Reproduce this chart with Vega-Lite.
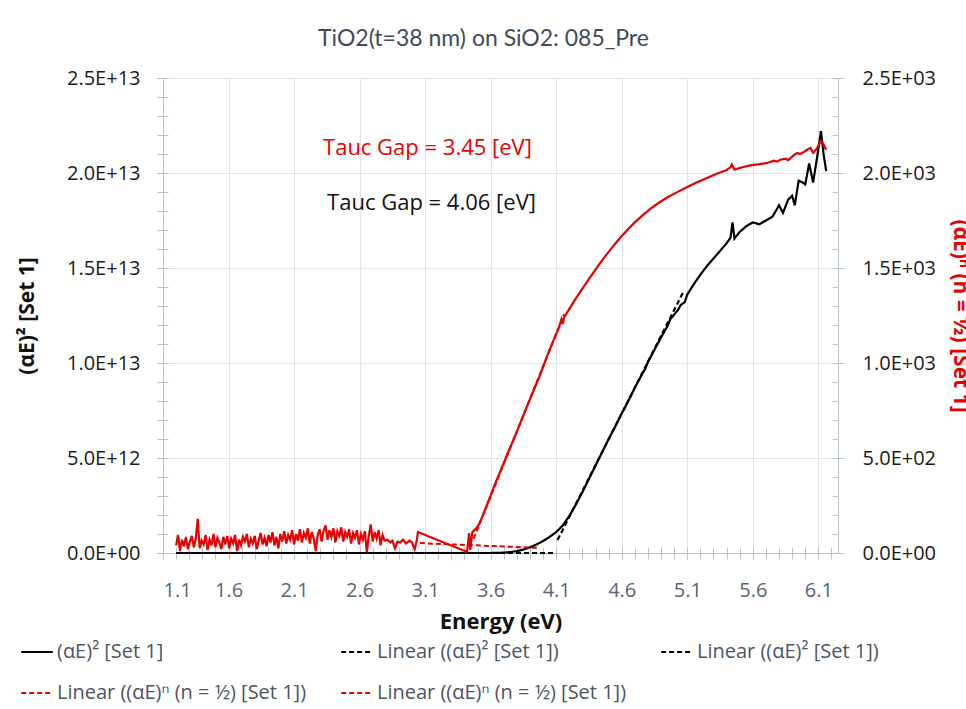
{
  "$schema": "https://vega.github.io/schema/vega-lite/v6.json",
  "autosize": {"type": "none"},
  "padding": {"left": 163, "top": 78, "right": 128, "bottom": 156},
  "width": 675,
  "height": 475,
  "background": "white",
  "config": {"font": "Open Sans", "view": {"stroke": null}},
  "title": {
    "text": "TiO2(t=38 nm) on SiO2: 085_Pre",
    "font": "Lato",
    "fontSize": 23,
    "fontWeight": "normal",
    "color": "#3f4b5c",
    "anchor": "middle",
    "frame": "group",
    "baseline": "alphabetic",
    "offset": 32,
    "dx": -17,
    "dy": 33
  },
  "datasets": {
    "black": [
      {"E": 1.2, "v": 0, "s": "s1"},
      {"E": 3.6, "v": 0, "s": "s1"},
      {"E": 3.7, "v": 0.02e12, "s": "s1"},
      {"E": 3.75, "v": 0.05e12, "s": "s1"},
      {"E": 3.8, "v": 0.1e12, "s": "s1"},
      {"E": 3.85, "v": 0.18e12, "s": "s1"},
      {"E": 3.9, "v": 0.3e12, "s": "s1"},
      {"E": 3.95, "v": 0.45e12, "s": "s1"},
      {"E": 4.0, "v": 0.63e12, "s": "s1"},
      {"E": 4.05, "v": 0.85e12, "s": "s1"},
      {"E": 4.1, "v": 1.1e12, "s": "s1"},
      {"E": 4.15, "v": 1.45e12, "s": "s1"},
      {"E": 4.2, "v": 1.95e12, "s": "s1"},
      {"E": 4.25, "v": 2.55e12, "s": "s1"},
      {"E": 4.3, "v": 3.2e12, "s": "s1"},
      {"E": 4.35, "v": 3.9e12, "s": "s1"},
      {"E": 4.4, "v": 4.6e12, "s": "s1"},
      {"E": 4.45, "v": 5.3e12, "s": "s1"},
      {"E": 4.5, "v": 6.0e12, "s": "s1"},
      {"E": 4.55, "v": 6.65e12, "s": "s1"},
      {"E": 4.6, "v": 7.35e12, "s": "s1"},
      {"E": 4.62, "v": 7.6e12, "s": "s1"},
      {"E": 4.65, "v": 8.0e12, "s": "s1"},
      {"E": 4.7, "v": 8.7e12, "s": "s1"},
      {"E": 4.75, "v": 9.35e12, "s": "s1"},
      {"E": 4.78, "v": 9.7e12, "s": "s1"},
      {"E": 4.8, "v": 10.05e12, "s": "s1"},
      {"E": 4.85, "v": 10.7e12, "s": "s1"},
      {"E": 4.9, "v": 11.35e12, "s": "s1"},
      {"E": 4.95, "v": 11.95e12, "s": "s1"},
      {"E": 4.97, "v": 12.3e12, "s": "s1"},
      {"E": 5.0, "v": 12.55e12, "s": "s1"},
      {"E": 5.03, "v": 12.8e12, "s": "s1"},
      {"E": 5.05, "v": 13.05e12, "s": "s1"},
      {"E": 5.08, "v": 13.2e12, "s": "s1"},
      {"E": 5.1, "v": 13.6e12, "s": "s1"},
      {"E": 5.15, "v": 14.15e12, "s": "s1"},
      {"E": 5.2, "v": 14.65e12, "s": "s1"},
      {"E": 5.25, "v": 15.1e12, "s": "s1"},
      {"E": 5.3, "v": 15.5e12, "s": "s1"},
      {"E": 5.35, "v": 15.9e12, "s": "s1"},
      {"E": 5.4, "v": 16.3e12, "s": "s1"},
      {"E": 5.43, "v": 16.6e12, "s": "s1"},
      {"E": 5.445, "v": 17.4e12, "s": "s1"},
      {"E": 5.46, "v": 16.55e12, "s": "s1"},
      {"E": 5.5, "v": 16.9e12, "s": "s1"},
      {"E": 5.55, "v": 17.2e12, "s": "s1"},
      {"E": 5.6, "v": 17.4e12, "s": "s1"},
      {"E": 5.65, "v": 17.3e12, "s": "s1"},
      {"E": 5.7, "v": 17.5e12, "s": "s1"},
      {"E": 5.75, "v": 17.7e12, "s": "s1"},
      {"E": 5.8, "v": 18.3e12, "s": "s1"},
      {"E": 5.83, "v": 17.9e12, "s": "s1"},
      {"E": 5.87, "v": 18.6e12, "s": "s1"},
      {"E": 5.9, "v": 18.8e12, "s": "s1"},
      {"E": 5.92, "v": 18.3e12, "s": "s1"},
      {"E": 5.95, "v": 19.6e12, "s": "s1"},
      {"E": 5.98, "v": 19.5e12, "s": "s1"},
      {"E": 6.0, "v": 19.4e12, "s": "s1"},
      {"E": 6.03, "v": 20.5e12, "s": "s1"},
      {"E": 6.06, "v": 19.5e12, "s": "s1"},
      {"E": 6.09, "v": 20.8e12, "s": "s1"},
      {"E": 6.12, "v": 22.2e12, "s": "s1"},
      {"E": 6.14, "v": 21.0e12, "s": "s1"},
      {"E": 6.16, "v": 20.1e12, "s": "s1"},
      {"E": 4.11, "v": 0.68e12, "s": "f1"},
      {"E": 5.07, "v": 13.74e12, "s": "f1"},
      {"E": 3.0, "v": 0, "s": "f2"},
      {"E": 4.1, "v": 0, "s": "f2"}
    ],
    "redfit": [
      {"E": 3.06, "v": 52, "s": "f3"},
      {"E": 3.96, "v": 27, "s": "f3"},
      {"E": 3.47, "v": 75, "s": "f4"},
      {"E": 4.16, "v": 1257, "s": "f4"}
    ],
    "red": [
      {"E": 1.2, "v": 40}, {"E": 1.215, "v": 95}, {"E": 1.23, "v": 10}, {"E": 1.245, "v": 70},
      {"E": 1.26, "v": 35}, {"E": 1.275, "v": 85}, {"E": 1.29, "v": 20}, {"E": 1.305, "v": 60},
      {"E": 1.32, "v": 90}, {"E": 1.335, "v": 30}, {"E": 1.35, "v": 75}, {"E": 1.365, "v": 180},
      {"E": 1.38, "v": 25}, {"E": 1.395, "v": 65}, {"E": 1.41, "v": 45}, {"E": 1.425, "v": 95},
      {"E": 1.44, "v": 15}, {"E": 1.455, "v": 70}, {"E": 1.47, "v": 40}, {"E": 1.485, "v": 100},
      {"E": 1.5, "v": 30}, {"E": 1.515, "v": 80}, {"E": 1.53, "v": 55}, {"E": 1.545, "v": 20},
      {"E": 1.56, "v": 85}, {"E": 1.575, "v": 45}, {"E": 1.59, "v": 90}, {"E": 1.605, "v": 25},
      {"E": 1.62, "v": 75}, {"E": 1.635, "v": 50}, {"E": 1.65, "v": 95}, {"E": 1.665, "v": 10},
      {"E": 1.68, "v": 70}, {"E": 1.695, "v": 40}, {"E": 1.71, "v": 85}, {"E": 1.725, "v": 60},
      {"E": 1.74, "v": 100}, {"E": 1.755, "v": 30}, {"E": 1.77, "v": 75}, {"E": 1.785, "v": 50},
      {"E": 1.8, "v": 90}, {"E": 1.815, "v": 20}, {"E": 1.83, "v": 65}, {"E": 1.845, "v": 105},
      {"E": 1.86, "v": 45}, {"E": 1.875, "v": 80}, {"E": 1.89, "v": 35}, {"E": 1.905, "v": 95},
      {"E": 1.92, "v": 55}, {"E": 1.935, "v": 110}, {"E": 1.95, "v": 40}, {"E": 1.965, "v": 85},
      {"E": 1.98, "v": 25}, {"E": 1.995, "v": 100}, {"E": 2.01, "v": 60}, {"E": 2.025, "v": 115},
      {"E": 2.04, "v": 50}, {"E": 2.055, "v": 95}, {"E": 2.07, "v": 70}, {"E": 2.085, "v": 120},
      {"E": 2.1, "v": 45}, {"E": 2.115, "v": 100}, {"E": 2.13, "v": 65}, {"E": 2.145, "v": 125},
      {"E": 2.16, "v": 55}, {"E": 2.175, "v": 105}, {"E": 2.19, "v": 80}, {"E": 2.205, "v": 130},
      {"E": 2.22, "v": 50}, {"E": 2.235, "v": 110}, {"E": 2.25, "v": 75}, {"E": 2.265, "v": 10},
      {"E": 2.28, "v": 95}, {"E": 2.295, "v": 125}, {"E": 2.31, "v": 60}, {"E": 2.325, "v": 115},
      {"E": 2.34, "v": 145}, {"E": 2.355, "v": 70}, {"E": 2.37, "v": 120}, {"E": 2.385, "v": 85},
      {"E": 2.4, "v": 130}, {"E": 2.415, "v": 55}, {"E": 2.43, "v": 115}, {"E": 2.445, "v": 90},
      {"E": 2.46, "v": 135}, {"E": 2.475, "v": 60}, {"E": 2.49, "v": 110}, {"E": 2.505, "v": 85},
      {"E": 2.52, "v": 125}, {"E": 2.535, "v": 50}, {"E": 2.55, "v": 105}, {"E": 2.565, "v": 80},
      {"E": 2.58, "v": 120}, {"E": 2.595, "v": 45}, {"E": 2.61, "v": 100}, {"E": 2.625, "v": 70},
      {"E": 2.64, "v": 115}, {"E": 2.655, "v": 5}, {"E": 2.67, "v": 90}, {"E": 2.685, "v": 150},
      {"E": 2.7, "v": 60}, {"E": 2.715, "v": 110}, {"E": 2.73, "v": 75}, {"E": 2.745, "v": 120},
      {"E": 2.76, "v": 40}, {"E": 2.775, "v": 95}, {"E": 2.79, "v": 65},
      {"E": 2.81, "v": 70}, {"E": 2.835, "v": 55}, {"E": 2.85, "v": 65}, {"E": 2.87, "v": 25},
      {"E": 2.89, "v": 60}, {"E": 2.91, "v": 55}, {"E": 2.93, "v": 70}, {"E": 2.955, "v": 50},
      {"E": 2.98, "v": 65}, {"E": 3.0, "v": 55}, {"E": 3.02, "v": 20}, {"E": 3.035, "v": 60},
      {"E": 3.045, "v": 110},
      {"E": 3.42, "v": 5}, {"E": 3.435, "v": 105}, {"E": 3.445, "v": 16}, {"E": 3.46, "v": 110},
      {"E": 3.49, "v": 130}, {"E": 3.51, "v": 150}, {"E": 3.535, "v": 190}, {"E": 3.57, "v": 250},
      {"E": 3.634, "v": 365}, {"E": 3.68, "v": 440}, {"E": 3.73, "v": 525}, {"E": 3.78, "v": 605},
      {"E": 3.825, "v": 682}, {"E": 3.87, "v": 760}, {"E": 3.924, "v": 850}, {"E": 3.97, "v": 925},
      {"E": 4.03, "v": 1035}, {"E": 4.077, "v": 1115}, {"E": 4.12, "v": 1185}, {"E": 4.14, "v": 1230},
      {"E": 4.15, "v": 1205}, {"E": 4.16, "v": 1240}, {"E": 4.2, "v": 1285}, {"E": 4.25, "v": 1340},
      {"E": 4.3, "v": 1392}, {"E": 4.35, "v": 1443}, {"E": 4.4, "v": 1492}, {"E": 4.45, "v": 1540},
      {"E": 4.5, "v": 1585}, {"E": 4.55, "v": 1628}, {"E": 4.6, "v": 1668}, {"E": 4.65, "v": 1705},
      {"E": 4.7, "v": 1740}, {"E": 4.76, "v": 1778}, {"E": 4.82, "v": 1812}, {"E": 4.88, "v": 1842},
      {"E": 4.95, "v": 1872}, {"E": 5.02, "v": 1898}, {"E": 5.1, "v": 1926}, {"E": 5.17, "v": 1950},
      {"E": 5.25, "v": 1974}, {"E": 5.32, "v": 1995}, {"E": 5.4, "v": 2016}, {"E": 5.43, "v": 2030},
      {"E": 5.44, "v": 2045}, {"E": 5.46, "v": 2018}, {"E": 5.52, "v": 2030}, {"E": 5.58, "v": 2040},
      {"E": 5.64, "v": 2045}, {"E": 5.71, "v": 2053}, {"E": 5.76, "v": 2065}, {"E": 5.79, "v": 2060},
      {"E": 5.81, "v": 2070}, {"E": 5.85, "v": 2075}, {"E": 5.87, "v": 2068}, {"E": 5.89, "v": 2080},
      {"E": 5.92, "v": 2098}, {"E": 5.94, "v": 2106}, {"E": 5.96, "v": 2100}, {"E": 5.99, "v": 2110},
      {"E": 6.02, "v": 2125}, {"E": 6.04, "v": 2132}, {"E": 6.06, "v": 2106}, {"E": 6.09, "v": 2130},
      {"E": 6.12, "v": 2170}, {"E": 6.14, "v": 2150}, {"E": 6.16, "v": 2122}
    ],
    "notes": [
      {"E": 2.321, "v": 20.95e12, "label": "Tauc Gap = 3.45 [eV]"},
      {"E": 2.352, "v": 18.05e12, "label": "Tauc Gap = 4.06 [eV]"}
    ]
  },
  "resolve": {
    "scale": {"y": "independent"},
    "axis": {"x": "independent", "y": "independent"}
  },
  "layer": [
    {
      "data": {"name": "black"},
      "mark": {"type": "line", "strokeWidth": 2.2},
      "encoding": {
        "x": {
          "field": "E", "type": "quantitative",
          "scale": {"domain": [1.1, 6.25], "nice": false, "zero": false},
          "axis": {
            "orient": "bottom",
            "title": "Energy (eV)",
            "values": [1.1, 1.6, 2.1, 2.6, 3.1, 3.6, 4.1, 4.6, 5.1, 5.6, 6.1],
            "format": ".1f",
            "grid": true, "gridColor": "#e1e4e8", "gridWidth": 1,
            "domainColor": "#b9c3cd", "tickColor": "#b9c3cd", "tickSize": 6,
            "labelFont": "Open Sans", "labelFontSize": 20, "labelColor": "#596577", "labelPadding": 21,
            "titleFont": "Open Sans", "titleFontSize": 22, "titleFontWeight": "bold", "titleColor": "#111111",
            "titlePadding": 11
          }
        },
        "y": {
          "field": "v", "type": "quantitative",
          "scale": {"domain": [0, 2.5e13], "nice": false},
          "axis": {
            "orient": "left",
            "title": "(αE)² [Set 1]",
            "values": [0, 5e12, 1e13, 1.5e13, 2e13, 2.5e13],
            "labelExpr": "datum.value == 0 ? '0.0E+00' : replace(format(datum.value, '.1e'), 'e', 'E')",
            "grid": true, "gridColor": "#e1e4e8", "gridWidth": 1,
            "domainColor": "#b9c3cd", "tickColor": "#b9c3cd", "tickSize": 6,
            "labelFont": "Open Sans", "labelFontSize": 20, "labelColor": "#1a1a1a", "labelPadding": 17,
            "titleFont": "Open Sans", "titleFontSize": 21, "titleFontWeight": "bold", "titleColor": "#111111",
            "titlePadding": 29
          }
        },
        "color": {
          "field": "s", "type": "nominal",
          "scale": {"domain": ["s1", "f1", "f2", "f3", "f4"], "range": ["#000000", "#000000", "#000000", "#e60000", "#e60000"]},
          "legend": {
            "title": null, "orient": "none", "legendX": -143, "legendY": 557,
            "direction": "horizontal", "columns": 3, "columnPadding": 30, "rowPadding": 14,
            "symbolType": "stroke", "symbolSize": 1000, "symbolStrokeWidth": 2,
            "labelFont": "Open Sans", "labelFontSize": 20, "labelColor": "#4b5567", "labelOffset": 3, "labelLimit": 400,
            "labelExpr": "datum.value == 's1' ? '(αE)² [Set 1]' : (datum.value == 'f1' || datum.value == 'f2') ? 'Linear ((αE)² [Set 1])' : 'Linear ((αE)ⁿ (n = ½) [Set 1])'"
          }
        },
        "strokeDash": {
          "field": "s", "type": "nominal",
          "scale": {"domain": ["s1", "f1", "f2", "f3", "f4"], "range": [[1, 0], [5, 3], [5, 3], [5, 3], [5, 3]]},
          "legend": {
            "title": null, "orient": "none", "legendX": -143, "legendY": 557,
            "direction": "horizontal", "columns": 3, "columnPadding": 30, "rowPadding": 14,
            "symbolType": "stroke", "symbolSize": 1000, "symbolStrokeWidth": 2,
            "labelFont": "Open Sans", "labelFontSize": 20, "labelColor": "#4b5567", "labelOffset": 3, "labelLimit": 400,
            "labelExpr": "datum.value == 's1' ? '(αE)² [Set 1]' : (datum.value == 'f1' || datum.value == 'f2') ? 'Linear ((αE)² [Set 1])' : 'Linear ((αE)ⁿ (n = ½) [Set 1])'"
          }
        }
      }
    },
    {
      "data": {"name": "red"},
      "mark": {"type": "line", "strokeWidth": 2.2, "color": "#e60000"},
      "encoding": {
        "x": {"field": "E", "type": "quantitative", "scale": {"domain": [1.1, 6.25], "nice": false, "zero": false}, "axis": null},
        "y": {
          "field": "v", "type": "quantitative",
          "scale": {"domain": [0, 2500], "nice": false},
          "axis": {
            "orient": "right",
            "title": "(αE)ⁿ (n = ½) [Set 1]",
            "values": [0, 500, 1000, 1500, 2000, 2500],
            "labelExpr": "datum.value == 0 ? '0.0E+00' : replace(format(datum.value, '.1e'), 'e+', 'E+0')",
            "grid": false,
            "domainColor": "#b9c3cd", "tickColor": "#b9c3cd", "tickSize": 6,
            "labelFont": "Open Sans", "labelFontSize": 20, "labelColor": "#1a1a1a", "labelPadding": 18,
            "titleFont": "Open Sans", "titleFontSize": 21, "titleFontWeight": "bold", "titleColor": "#e60000",
            "titlePadding": 14
          }
        }
      }
    },
    {
      "data": {"name": "redfit"},
      "mark": {"type": "line", "strokeWidth": 2},
      "encoding": {
        "x": {"field": "E", "type": "quantitative", "scale": {"domain": [1.1, 6.25], "nice": false, "zero": false}, "axis": null},
        "y": {
          "field": "v", "type": "quantitative",
          "scale": {"domain": [0, 2500], "nice": false},
          "axis": {
            "orient": "right", "title": null, "labels": false, "grid": false, "domain": false,
            "values": [0, 100, 200, 300, 400, 500, 600, 700, 800, 900, 1000, 1100, 1200, 1300, 1400, 1500, 1600, 1700, 1800, 1900, 2000, 2100, 2200, 2300, 2400, 2500],
            "tickColor": "#b9c3cd", "tickSize": 6, "offset": -6
          }
        },
        "color": {"field": "s", "type": "nominal", "scale": {"domain": ["s1", "f1", "f2", "f3", "f4"], "range": ["#000000", "#000000", "#000000", "#e60000", "#e60000"]}},
        "strokeDash": {"field": "s", "type": "nominal", "scale": {"domain": ["s1", "f1", "f2", "f3", "f4"], "range": [[1, 0], [5, 3], [5, 3], [5, 3], [5, 3]]}}
      }
    },
    {
      "data": {"name": "notes"},
      "mark": {"type": "text", "align": "left", "baseline": "alphabetic", "font": "Open Sans", "fontSize": 22},
      "encoding": {
        "x": {
          "field": "E", "type": "quantitative",
          "scale": {"domain": [1.1, 6.25], "nice": false, "zero": false},
          "axis": {
            "orient": "bottom", "title": null, "labels": false, "grid": false, "domain": false,
            "values": [1.1, 1.2, 1.3, 1.4, 1.5, 1.6, 1.7, 1.8, 1.9, 2.0, 2.1, 2.2, 2.3, 2.4, 2.5, 2.6, 2.7, 2.8, 2.9, 3.0, 3.1, 3.2, 3.3, 3.4, 3.5, 3.6, 3.7, 3.8, 3.9, 4.0, 4.1, 4.2, 4.3, 4.4, 4.5, 4.6, 4.7, 4.8, 4.9, 5.0, 5.1, 5.2, 5.3, 5.4, 5.5, 5.6, 5.7, 5.8, 5.9, 6.0, 6.1, 6.2],
            "tickColor": "#b9c3cd", "tickSize": 12, "offset": -6
          }
        },
        "y": {
          "field": "v", "type": "quantitative",
          "scale": {"domain": [0, 2.5e13], "nice": false},
          "axis": {
            "orient": "left", "title": null, "labels": false, "grid": false, "domain": false,
            "values": [0, 1e12, 2e12, 3e12, 4e12, 5e12, 6e12, 7e12, 8e12, 9e12, 1e13, 1.1e13, 1.2e13, 1.3e13, 1.4e13, 1.5e13, 1.6e13, 1.7e13, 1.8e13, 1.9e13, 2e13, 2.1e13, 2.2e13, 2.3e13, 2.4e13, 2.5e13],
            "tickColor": "#b9c3cd", "tickSize": 11, "offset": -5
          }
        },
        "text": {"field": "label", "type": "nominal"},
        "color": {
          "condition": {"test": "datum.label == 'Tauc Gap = 3.45 [eV]'", "value": "#e60000"},
          "value": "#111111"
        }
      }
    }
  ]
}
